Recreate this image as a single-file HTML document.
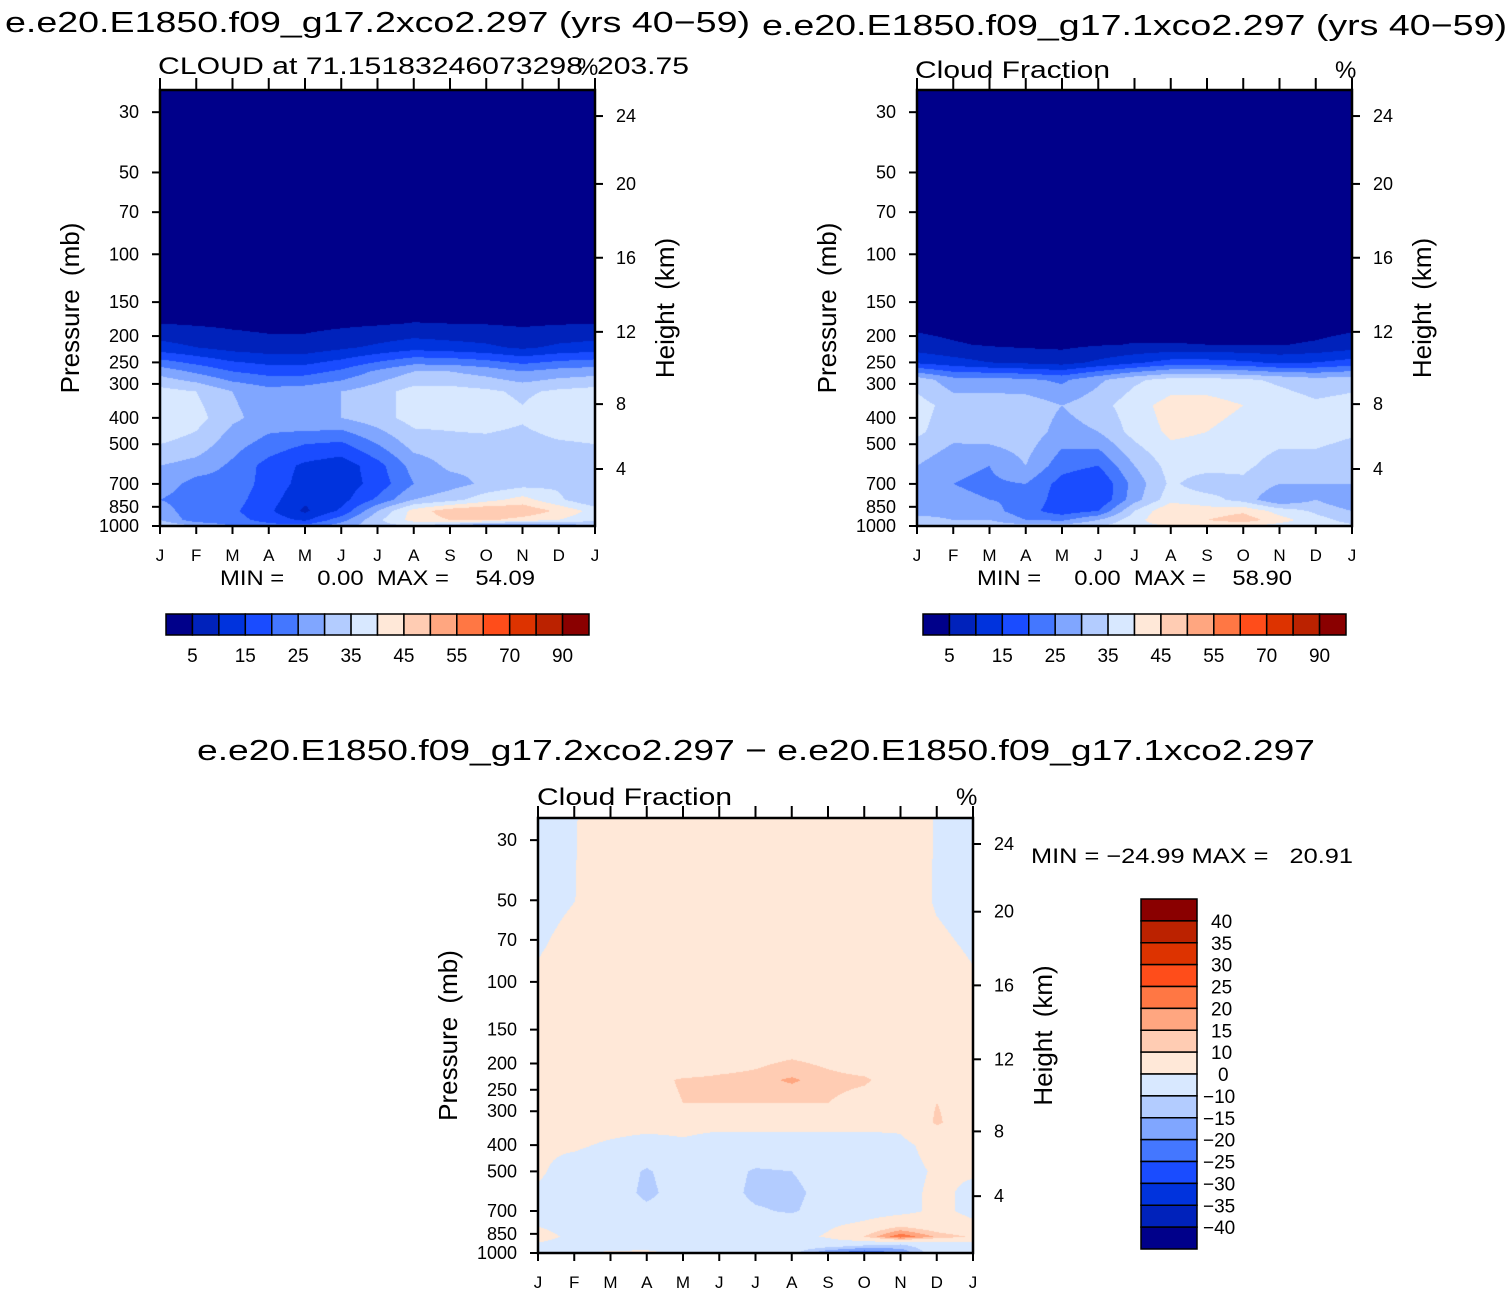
<!DOCTYPE html>
<html><head><meta charset="utf-8"><style>
html,body{margin:0;padding:0;background:#fff;width:1512px;height:1295px;overflow:hidden}
#c{position:absolute;left:0;top:0}
#s{position:absolute;left:0;top:0}
text{font-family:"Liberation Sans",sans-serif;fill:#000}
</style></head><body>
<canvas id="c" width="1512" height="1295"></canvas>
<svg id="s" width="1512" height="1295" xmlns="http://www.w3.org/2000/svg">
<text x="5" y="32" font-size="29" textLength="745" lengthAdjust="spacingAndGlyphs">e.e20.E1850.f09_g17.2xco2.297 (yrs 40−59)</text>
<text x="762" y="35" font-size="29" textLength="745" lengthAdjust="spacingAndGlyphs">e.e20.E1850.f09_g17.1xco2.297 (yrs 40−59)</text>
<text x="158" y="74" font-size="24" textLength="425" lengthAdjust="spacingAndGlyphs">CLOUD at 71.15183246073298</text>
<text x="577" y="75" font-size="24">%</text>
<text x="597" y="74" font-size="24" textLength="92" lengthAdjust="spacingAndGlyphs">203.75</text>
<text x="915" y="78" font-size="24" textLength="195" lengthAdjust="spacingAndGlyphs">Cloud Fraction</text>
<text x="1335" y="78" font-size="24">%</text>
<text x="197" y="760" font-size="29" textLength="1118" lengthAdjust="spacingAndGlyphs">e.e20.E1850.f09_g17.2xco2.297 − e.e20.E1850.f09_g17.1xco2.297</text>
<text x="537" y="805" font-size="24" textLength="195" lengthAdjust="spacingAndGlyphs">Cloud Fraction</text>
<text x="956" y="805" font-size="24">%</text>
<text x="220" y="585" font-size="21" textLength="315" lengthAdjust="spacingAndGlyphs" xml:space="preserve">MIN =     0.00  MAX =    54.09</text>
<text x="977" y="585" font-size="21" textLength="315" lengthAdjust="spacingAndGlyphs" xml:space="preserve">MIN =     0.00  MAX =    58.90</text>
<text x="1031" y="863" font-size="21" textLength="322" lengthAdjust="spacingAndGlyphs" xml:space="preserve">MIN = −24.99 MAX =   20.91</text>
<g id="axes"></g>
</svg>
<script>
// ---- data ----
const months=["J","F","M","A","M","J","J","A","S","O","N","D","J"];
const pTicks=[30,50,70,100,150,200,250,300,400,500,700,850,1000];
const hTicks=[24,20,16,12,8,4];
const hTickP=[31,55.1,103,193,356,617];
const absBounds=[5,10,15,20,25,30,35,40,45,50,55,60,70,80,90];
const absLabels=["5","15","25","35","45","55","70","90"];
const diffBounds=[-40,-35,-30,-25,-20,-15,-10,0,10,15,20,25,30,35,40];
const diffLabels=["40","35","30","25","20","15","10","0","−10","−15","−20","−25","−30","−35","−40"];
const colors=["#00008a","#0022bb","#0033dd","#1a4cff","#4477ff","#80a6ff","#b3ccff","#d8e8ff","#ffe8d8","#ffccb3","#ffa680","#ff7744","#ff4d1a","#dd3300","#bb2200","#8a0000"];

const p1Levels=[25,150,180,220,270,320,400,500,600,700,800,880,950,1000];
const p1Grid=[
[1,1,1,1,1,1,1,1,1,1,1,1,1],
[2,2,2,2,2,2,2,2,2,2,2,2,2],
[5,4.5,4,3.5,3.5,4,4.5,5.2,5,4.8,4.3,4.7,5],
[12,10,8,7,7,9,11,13,12,11,9,11,12],
[28,24,20,18,18,21,26,30,30,28,25,27,28],
[37,35,30,27,28,30,33,37,37,36,34,36,37],
[40,37,31,28,30,30,33,37,37,38,36,40,40],
[35,33,27,23,20,19,25,32,33,33,32,34,35],
[30,28,24,18,14,12,18,27,31,31,32,33,30],
[28,23,23,18,13,12,17,25,28,31,33,34,30],
[25,22,22,17,11,13,21,30,33,38,42,36,30],
[28,21,21,16,9,16,30,42,48,50,49,44,38],
[30,22,22,18,14,23,34,42,45,46,43,40,36],
[35,30,25,22,22,28,33,35,30,22,22,25,30]];

const p2Levels=[25,150,180,215,250,290,360,450,600,700,800,880,950,1000];
const p2Grid=[
[1,1,1,1,1,1,1,1,1,1,1,1,1],
[2,2,2,2,2,2,2,2,2,2,2,2,2],
[3.5,3,2.5,2,2,2.5,3,3,3,3,2.8,3,3.5],
[7,5.5,4.5,4,3.8,4.6,5.2,5.2,5,5,4.8,5.5,7],
[14,12,10,9,8,11,14,17,17,16,14,15,17],
[33,27,27,26,24,29,34,37,37,36,34,32,33],
[37,33,33,33,30,33,38,42,42,40,38,36,37],
[36,32,33,33,28,30,37,41,40,38,37,38,36],
[30,26,25,30,22,20,30,37,37,36,33,32,30],
[30,25,24,25,18,15,27,36,32,34,30,30,30],
[27,26,25,24,17,15,28,38,37,33,25,30,25],
[28,28,27,22,17,20,35,45,42,44,38,34,30],
[32,30,30,25,24,30,38,45,45,48,42,37,33],
[36,35,33,32,32,35,38,40,40,40,38,38,36]];

const dLevels=[25,50,75,100,150,210,230,280,330,400,500,600,700,800,870,930,1000];
const dGrid=[
[-3,-0.3,3,3,3,3,3,3,3,3,3,-0.3,-3],
[-2,-0.1,3,3,3,3,3,3,3,3,3,-0.5,-2],
[-0.5,2,3,3,3,3,3,3,3,3,3,1,-0.5],
[1,3,3,3,3,3,3,3,3,3,3,2,0.5],
[4,4,4,4,4,4,4,4,4,4,4,4,4],
[4,4,4,4,5,8,10,12,10,8,5,4,4],
[5,7,5,7,11,12,13,16,12,11,6,5,5],
[4,10,4,6,10,10,10,10,10,7,5,10,7],
[3,3,3,3,2,2,2,2,2,2,2,11,5],
[1,1,-1,-3,-1,-3,-3,-3,-3,-3,-2,3,1],
[1,-3,-5,-11,-5,-6,-11,-10,-6,-5,-3,1,1],
[-1,-3,-5,-12,-6,-6,-12,-12,-7,-5,-3,2,-2],
[-2,-3,-4,-8,-5,-5,-9,-11,-6,-5,-3,2,-2],
[0,-3,-3,-3,-3,-3,-3,-4,-1,3,10,5,2],
[3,-2,-3,-3,-3,-3,-3,-3,1,10,24,14,9],
[-1,-3,-3,-2,-3,-3,-3,-5,-5,-8,-10,-5,-3],
[-1,-1,1,1,-1,-2,-3,-8,-20,-25,-20,-5,-2]];

// ---- drawing ----
const L=Math.log(1000/24.86);
function yOf(y0,h,p){return y0+h-h*Math.log(1000/p)/L;}
function hex(c){return [parseInt(c.substr(1,2),16),parseInt(c.substr(3,2),16),parseInt(c.substr(5,2),16)];}
const rgb=colors.map(hex);
const ctx=document.getElementById('c').getContext('2d');
function fillPanel(x0,y0,w,h,levels,grid,bounds){
  const img=ctx.createImageData(w,h);const lnl=levels.map(Math.log);
  for(let py=0;py<h;py++){
    const frac=(h-py-0.5)/h;const lp=Math.log(1000)-frac*L;
    let r=0;while(r<lnl.length-2&&lnl[r+1]<lp)r++;
    let t=(lp-lnl[r])/(lnl[r+1]-lnl[r]);t=Math.max(0,Math.min(1,t));
    for(let px=0;px<w;px++){
      const m=(px+0.5)/w*12;const c=Math.min(11,Math.floor(m));const u=m-c;
      const v=(1-t)*((1-u)*grid[r][c]+u*grid[r][c+1])+t*((1-u)*grid[r+1][c]+u*grid[r+1][c+1]);
      let k=0;while(k<bounds.length&&v>=bounds[k])k++;
      const col=rgb[k];const i=(py*w+px)*4;
      img.data[i]=col[0];img.data[i+1]=col[1];img.data[i+2]=col[2];img.data[i+3]=255;
    }
  }
  ctx.putImageData(img,x0,y0);
}
const NS="http://www.w3.org/2000/svg";const axes=document.getElementById('axes');
function el(tag,attrs,parent){const e=document.createElementNS(NS,tag);for(const k in attrs)e.setAttribute(k,attrs[k]);(parent||axes).appendChild(e);return e;}
function txt(x,y,s,size,anchor,parent){const t=el('text',{x:x,y:y,'font-size':size,'text-anchor':anchor||'start'},parent);t.textContent=s;return t;}

function panel(name,x0,y0,w,h,levels,grid,bounds){
  fillPanel(x0,y0,w,h,levels,grid,bounds);
  const g=el('g',{});
  
  
  const fr=el('rect',{x:x0,y:y0,width:w,height:h,fill:'none',stroke:'#000','stroke-width':2.5},g);
  
  
  pTicks.forEach(p=>{const y=yOf(y0,h,p);
    el('line',{x1:x0-8,x2:x0,y1:y,y2:y,stroke:'#000','stroke-width':2},g);
    const t=txt(x0-21,y+6,String(p),18,'end',g);
    
    });
  hTicks.forEach((hk,i)=>{const y=yOf(y0,h,hTickP[i]);
    el('line',{x1:x0+w,x2:x0+w+8,y1:y,y2:y,stroke:'#000','stroke-width':2},g);
    const t=txt(x0+w+21,y+6,String(hk),18,'start',g);
    
    });
  months.forEach((m,i)=>{const x=x0+i*w/12;
    el('line',{x1:x,x2:x,y1:y0+h,y2:y0+h+8,stroke:'#000','stroke-width':2},g);
    el('line',{x1:x,x2:x,y1:y0-12,y2:y0,stroke:'#000','stroke-width':2},g);
    const t=txt(x,y0+h+35,m,17,'middle',g);
    
    });
  const cy=y0+h/2;
  const a=txt(0,0,'Pressure (mb)',26,'middle',g);
  a.setAttribute('transform','translate('+(x0-81)+','+cy+') rotate(-90)');
  a.setAttribute('word-spacing','6');
  
  
  const b=txt(0,0,'Height (km)',26,'middle',g);
  b.setAttribute('transform','translate('+(x0+w+79)+','+cy+') rotate(-90)');
  b.setAttribute('word-spacing','6');
  
  
}
panel('panel1',160,90,435,436,p1Levels,p1Grid,absBounds);
panel('panel2',917,90,435,436,p2Levels,p2Grid,absBounds);
panel('diff',538,818,435,435,dLevels,dGrid,diffBounds);

function hbar(name,x0,y0,w,h){
  const bw=w/colors.length;
  colors.forEach((c,i)=>{const r=el('rect',{x:x0+i*bw,y:y0,width:bw,height:h,fill:c,stroke:'#000','stroke-width':1.5});
    
    });
  absLabels.forEach((s,i)=>{const t=txt(x0+bw*(1+2*i),y0+h+27,s,19,'middle');
    
    });
}
hbar('panel1-colorbar',166,614,423,21);
hbar('panel2-colorbar',923,614,423,21);
(function(){const x0=1141,y0=899,w=56,h=350,bh=h/colors.length;
  colors.slice().reverse().forEach((c,i)=>{const r=el('rect',{x:x0,y:y0+i*bh,width:w,height:bh,fill:c,stroke:'#000','stroke-width':1.5});
    
    });
  diffLabels.forEach((s,i)=>{const t=txt(s.startsWith('−')?1203:(s==='0'?1218:1211),y0+bh*(i+1)+7,s,19,'start');
    
    });
})();
</script>
</body></html>
